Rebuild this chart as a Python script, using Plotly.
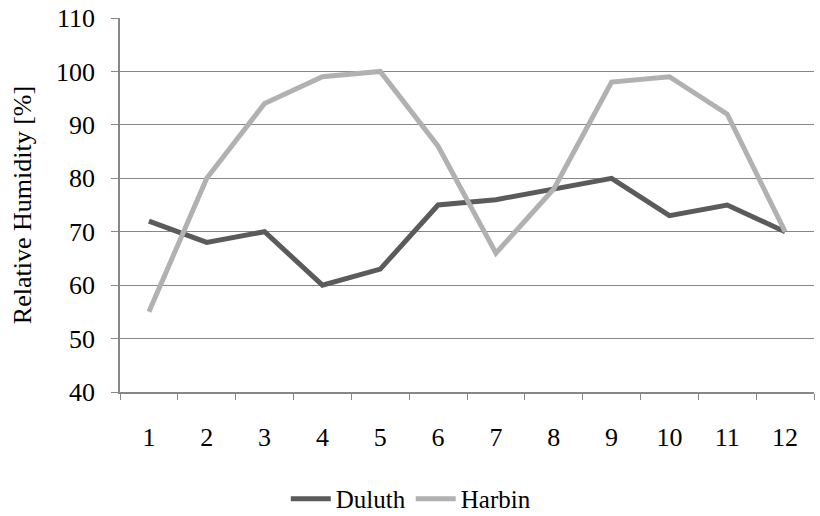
import plotly.graph_objects as go

months = ["1", "2", "3", "4", "5", "6", "7", "8", "9", "10", "11", "12"]
duluth = [72, 68, 70, 60, 63, 75, 76, 78, 80, 73, 75, 70]
harbin = [55, 80, 94, 99, 100, 86, 66, 78, 98, 99, 92, 70]
y_ticks = [40, 50, 60, 70, 80, 90, 100, 110]

FONT = "Liberation Serif"
AXIS_GRAY = "#878787"

fig = go.Figure()
fig.add_trace(go.Scatter(x=months, y=duluth, name="Duluth", mode="lines",
                         line=dict(color="#5b5b5b", width=5)))
fig.add_trace(go.Scatter(x=months, y=harbin, name="Harbin", mode="lines",
                         line=dict(color="#b1b1b1", width=5)))

fig.update_layout(
    width=820, height=516,
    margin=dict(l=120, r=6, t=18, b=124, autoexpand=False),
    paper_bgcolor="white", plot_bgcolor="white",
    font=dict(family=FONT, size=26, color="black"),
    showlegend=True,
    legend=dict(orientation="h", x=0.419, xanchor="center", y=-0.286, yanchor="middle",
                font=dict(family=FONT, size=25), itemwidth=40, tracegroupgap=0),
)
fig.update_xaxes(
    type="category", range=[-0.5, 11.5], tickson="boundaries", ticks="outside", ticklen=6,
    tickcolor=AXIS_GRAY, showline=True, linecolor=AXIS_GRAY, linewidth=1.5,
    showgrid=False, zeroline=False, ticklabelstandoff=21, automargin=False,
    tickfont=dict(family=FONT, size=26),
)
fig.update_yaxes(
    range=[40, 110], tickvals=y_ticks, ticks="outside", ticklen=7,
    tickcolor=AXIS_GRAY, showline=True, linecolor=AXIS_GRAY, linewidth=1.5,
    showgrid=True, gridcolor=AXIS_GRAY, gridwidth=1.2, zeroline=False,
    ticklabelstandoff=11, tickfont=dict(family=FONT, size=26), automargin=False,
    title=dict(text="Relative Humidity [%]", font=dict(family=FONT, size=26), standoff=17),
)

fig.write_html("out.html")
